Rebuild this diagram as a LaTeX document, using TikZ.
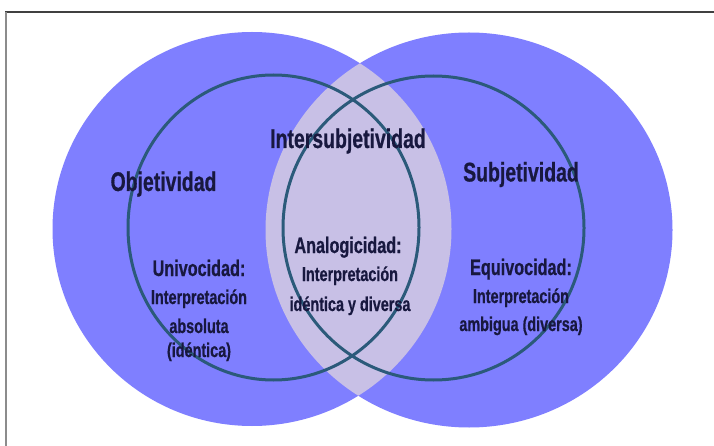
\documentclass[tikz,border=0pt]{standalone}
\usepackage{fontspec}
\newfontfamily\lblfont[FakeStretch=0.72,FakeBold=0.6]{Liberation Sans}
\definecolor{bigblue}{HTML}{7F7FFF}
\definecolor{lensfill}{HTML}{C8C0E6}
\definecolor{ringcol}{HTML}{2B5A7A}
\definecolor{txtcol}{HTML}{18183F}
\tikzset{
  ring/.style={draw=ringcol,line width=3pt},
  lbig/.style={font=\lblfont\bfseries\fontsize{27}{30}\selectfont,text=txtcol,inner sep=0pt,anchor=base},
  lmed/.style={font=\lblfont\bfseries\fontsize{22.5}{25}\selectfont,text=txtcol,inner sep=0pt,anchor=base},
  lsmall/.style={font=\lblfont\bfseries\fontsize{20}{23}\selectfont,text=txtcol,inner sep=0pt,anchor=base},
}
\begin{document}
\begin{tikzpicture}[x=1pt,y=-1pt]
\useasboundingbox (0,0) rectangle (714,446);
\fill[white] (0,0) rectangle (714,446);
% frame lines (top and left)
\draw[draw=black!75,line width=2.5pt] (5,12) -- (714,12);
\draw[draw=black!45,line width=2pt] (6,12) -- (6,446);
% big circles
\fill[bigblue] (252,229) circle[x radius=199.5pt,y radius=197pt];
\fill[bigblue] (469,230) circle[x radius=203.5pt,y radius=197.5pt];
% lens
\begin{scope}
  \clip (252,229) circle[x radius=199.5pt,y radius=197pt];
  \fill[lensfill] (469,230) circle[x radius=203.5pt,y radius=197.5pt];
\end{scope}
% inner rings
\draw[ring] (273.5,227.5) circle[x radius=145.5pt,y radius=152.5pt];
\draw[ring] (433.5,228) circle[x radius=150.5pt,y radius=152pt];
% labels
\node[lbig] (obj) at (163.5,191) {Objetividad};
\node[lbig] (inter) at (348,148) {Intersubjetividad};
\node[lbig] (subj) at (521,181.5) {Subjetividad};
\node[lmed] (univ) at (199,276) {Univocidad:};
\node[lsmall] (univa) at (199,304) {Interpretación};
\node[lsmall] (univb) at (199,333) {absoluta};
\node[lsmall] (univc) at (199,357) {(idéntica)};
\node[lmed] (anal) at (348,253) {Analogicidad:};
\node[lsmall] (anala) at (350,281) {Interpretación};
\node[lsmall] (analb) at (350,311) {idéntica y diversa};
\node[lmed] (equi) at (521,275) {Equivocidad:};
\node[lsmall] (equia) at (521,303) {Interpretación};
\node[lsmall] (equib) at (521,331) {ambigua (diversa)};
\end{tikzpicture}
\end{document}
